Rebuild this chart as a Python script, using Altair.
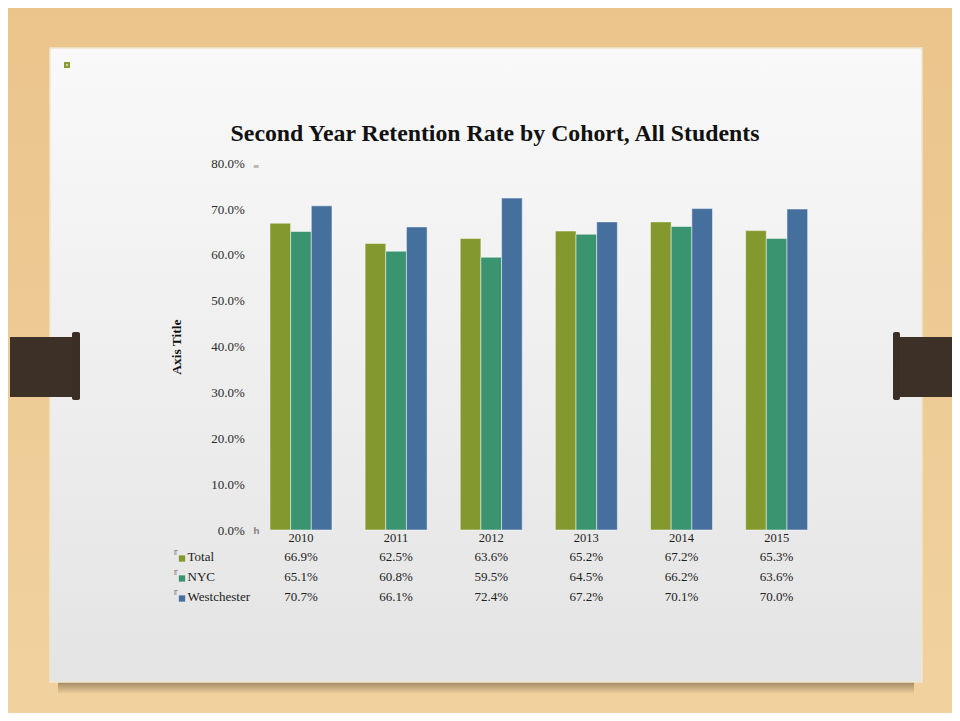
import altair as alt
import pandas as pd

# ---- data ----
years = ["2010", "2011", "2012", "2013", "2014", "2015"]
series = ["Total", "NYC", "Westchester"]
total = [66.9, 62.5, 63.6, 65.2, 67.2, 65.3]
nyc = [65.1, 60.8, 59.5, 64.5, 66.2, 63.6]
westchester = [70.7, 66.1, 72.4, 67.2, 70.1, 70.0]
y_ticks = [0.0, 0.1, 0.2, 0.3, 0.4, 0.5, 0.6, 0.7, 0.8]
title_text = "Second Year Retention Rate by Cohort, All Students"
axis_title = "Axis Title"

colors = ["#84992D", "#3A9470", "#45709E"]
SERIF = "Liberation Serif"

rows = []
for s, vals in zip(series, [total, nyc, westchester]):
    for yr, v in zip(years, vals):
        rows.append({"year": yr, "series": s, "rate": v / 100.0})
df = pd.DataFrame(rows)
legend_df = pd.DataFrame({"series": series})

# ---- layout (page pixels) ----
X0, Y0 = 253.4, 163.2          # page position of plot origin
W, H = 570.8, 366.8            # plot area
CW, CH = 944, 705              # canvas


def px(x):
    return x - X0


def py(y):
    return y - Y0


one = pd.DataFrame({"k": [0]})


def box(x1, y1, x2, y2, **kw):
    return alt.Chart(one).mark_rect(**kw).encode(
        x=alt.value(px(x1)), x2=alt.value(px(x2)),
        y=alt.value(py(y1)), y2=alt.value(py(y2)))


def vgrad(c1, c2):
    return alt.LinearGradient(
        gradient="linear",
        stops=[alt.GradientStop(color=c1, offset=0), alt.GradientStop(color=c2, offset=1)],
        x1=0, x2=0, y1=0, y2=1)


wood = box(8, 8, 952, 713, fill=vgrad("#EAC48B", "#F1D29E"))
shadow = box(58, 676, 914, 694, fill=vgrad("#7a6246", "#F0D19C"))
card = box(50, 48, 922, 682, fill=vgrad("#F9F9F9", "#E4E4E4"),
           stroke="#F1E6CF", strokeWidth=1.5)
clip_l = box(10, 337, 75, 397, fill="#3D3127")
cap_l = box(72, 332, 80, 400, fill="#3A2E25", cornerRadius=2)
clip_r = box(897, 337, 960, 397, fill="#3D3127")
cap_r = box(893, 332, 900, 400, fill="#3A2E25", cornerRadius=2)
sq_out = box(64, 62, 70, 68, fill="#879C33")
sq_in = box(66, 64, 68, 66, fill="#C9D39A")

title = alt.Chart(pd.DataFrame({"t": [title_text]})).mark_text(
    font=SERIF, fontSize=23.8, fontWeight="bold", color="#111111",
    align="center", baseline="alphabetic").encode(
    x=alt.value(px(495)), y=alt.value(py(141)), text="t:N")

xaxis = alt.Axis(domain=False, ticks=False, labelAngle=0, labelFont=SERIF,
                 labelFontSize=12.5, labelColor="#1e1e1e", labelPadding=1, zindex=2)
xenc = alt.X("year:N", title=None, axis=xaxis,
             scale=alt.Scale(domain=years, paddingInner=0.348, paddingOuter=0.174))

yaxis = alt.Axis(values=y_ticks, format=".1%", grid=False, domain=False, ticks=False,
                 tickSize=0, labelFont=SERIF, labelFontSize=13, labelColor="#2a2a2a",
                 labelPadding=9, titleFont=SERIF, titleFontSize=13.5, titleFontWeight="bold",
                 titleColor="#111111", titlePadding=27, zindex=2)

color_enc = alt.Color("series:N", scale=alt.Scale(domain=series, range=colors), legend=None)

bars = alt.Chart(df).mark_bar(stroke="#ffffff", strokeWidth=0.8, strokeOpacity=0.6).encode(
    x=xenc,
    xOffset=alt.XOffset("series:N", scale=alt.Scale(domain=series, paddingInner=0, paddingOuter=0)),
    y=alt.Y("rate:Q", title=axis_title, axis=yaxis,
            scale=alt.Scale(domain=[0, 0.8], nice=False)),
    color=color_enc,
)


def row_scale(y1, y2):
    return alt.Scale(type="point", domain=series, range=[py(y1), py(y2)], padding=0)


table = alt.Chart(df).mark_text(font=SERIF, fontSize=13, color="#222222",
                                baseline="middle", align="center").encode(
    x=xenc,
    y=alt.Y("series:N", axis=None, scale=row_scale(556.7, 596.7)),
    text=alt.Text("rate:Q", format=".1%"),
)

leg_sq = alt.Chart(legend_df).mark_square(size=40, opacity=1).encode(
    x=alt.value(px(182)),
    y=alt.Y("series:N", axis=None, scale=row_scale(558.5, 598.5)),
    color=color_enc,
)

leg_txt = alt.Chart(legend_df).mark_text(font=SERIF, fontSize=13, color="#222222",
                                          baseline="middle", align="left").encode(
    x=alt.value(px(187.5)),
    y=alt.Y("series:N", axis=None, scale=row_scale(556.7, 596.7)),
    text="series:N",
)

leg_glyph = alt.Chart(legend_df).mark_text(font="DejaVu Sans", fontSize=8, color="#8c8c8c",
                                            baseline="middle", align="center", text="\u2553").encode(
    x=alt.value(px(175.5)),
    y=alt.Y("series:N", axis=None, scale=row_scale(550.5, 590.5)),
)

g_top = alt.Chart(one).mark_text(font="DejaVu Sans", fontSize=8, color="#8c8c8c",
                                 text="\u2261", baseline="middle").encode(
    x=alt.value(px(256)), y=alt.value(py(167)))
g_bot = alt.Chart(one).mark_text(font="DejaVu Sans", fontSize=9, fontWeight="bold",
                                 color="#8c8c8c", text="h", baseline="middle").encode(
    x=alt.value(px(256.5)), y=alt.value(py(531)))

chart = alt.layer(
    wood, shadow, card, clip_l, cap_l, clip_r, cap_r, sq_out, sq_in,
    title, bars, table, leg_sq, leg_txt, leg_glyph, g_top, g_bot,
).resolve_scale(y="independent").properties(
    width=W, height=H,
    padding={"left": X0 - 8, "top": Y0 - 8,
             "right": CW - (X0 - 8) - W, "bottom": CH - (Y0 - 8) - H},
    autosize=alt.AutoSizeParams(type="none"),
    background="#EEC98F",
).configure_view(stroke=None)

chart.save("out.html", embed_options={"renderer": "svg", "actions": False})
